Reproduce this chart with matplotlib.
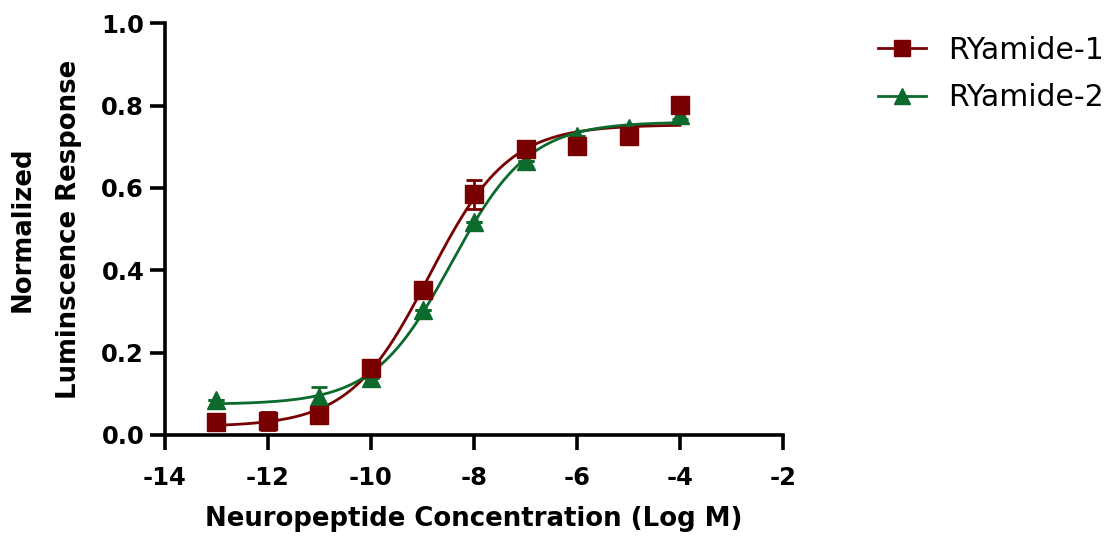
import numpy as np
from matplotlib import pyplot as plt

# log molar concentrations and mean responses
log_conc_1 = [-13, -12, -11, -10, -9, -8, -7, -6, -5, -4]
resp_1 = [0.032, 0.035, 0.048, 0.162, 0.352, 0.584, 0.694, 0.702, 0.727, 0.801]
err_1 = [0.0, 0.022, 0.0, 0.0, 0.012, 0.035, 0.0, 0.0, 0.0, 0.0]

log_conc_2 = [-13, -11, -10, -9, -8, -7, -6, -5, -4]
resp_2 = [0.086, 0.093, 0.138, 0.303, 0.518, 0.665, 0.726, 0.745, 0.777]
err_2 = [0.0, 0.024, 0.0, 0.0, 0.0, 0.0, 0.0, 0.0, 0.01]

labels = ["RYamide-1", "RYamide-2"]
colors = ["#780000", "#0b6a2c"]
markers = ["s", "^"]

x_ticks = [-14, -12, -10, -8, -6, -4, -2]
y_ticks = [0.0, 0.2, 0.4, 0.6, 0.8, 1.0]


def fit_4pl(x, y):
    """Four parameter logistic fit: grid over logEC50/hill, bottom/top by least squares."""
    x = np.asarray(x, float)
    y = np.asarray(y, float)
    ec = np.arange(-10.5, -7.0, 0.005)
    hill = np.arange(0.3, 1.5, 0.005)
    E, H = np.meshgrid(ec, hill, indexing="ij")
    s = 1.0 / (1.0 + 10 ** ((E[..., None] - x) * H[..., None]))
    a1, a2 = 1 - s, s
    s11 = (a1 * a1).sum(-1)
    s12 = (a1 * a2).sum(-1)
    s22 = (a2 * a2).sum(-1)
    r1 = (a1 * y).sum(-1)
    r2 = (a2 * y).sum(-1)
    det = s11 * s22 - s12 ** 2
    bottom = (s22 * r1 - s12 * r2) / det
    top = (s11 * r2 - s12 * r1) / det
    resid = ((bottom[..., None] * a1 + top[..., None] * a2 - y) ** 2).sum(-1)
    i, j = np.unravel_index(resid.argmin(), resid.shape)
    b, t, e, h = bottom[i, j], top[i, j], ec[i], hill[j]
    return lambda xx: b + (t - b) / (1 + 10 ** ((e - xx) * h))


plt.rcParams["font.family"] = ["DejaVu Sans"]

fig = plt.figure(figsize=(11.11, 5.39), dpi=100)
ax = fig.add_axes([0.1485, 0.193, 0.5563, 0.764])

series = [
    (log_conc_1, resp_1, err_1),
    (log_conc_2, resp_2, err_2),
]
z_line = [2, 3]
z_mark = [6, 4]

handles = []
for k, (x, y, e) in enumerate(series):
    curve = fit_4pl(x, y)
    xs = np.linspace(min(x), max(x), 300)
    ax.plot(xs, curve(xs), color=colors[k], lw=2.0, zorder=z_line[k])
    ax.errorbar(x, y, yerr=e, fmt="none", ecolor=colors[k], elinewidth=2.0,
                capsize=6, capthick=2.0, zorder=z_mark[k] - 1)
    ax.plot(x, y, ls="none", marker=markers[k], ms=12.5 if k == 0 else 13,
            color=colors[k], mec=colors[k], zorder=z_mark[k])
    h, = ax.plot([], [], color=colors[k], lw=2.0, marker=markers[k], ms=12)
    handles.append(h)

ax.set_xlim(-14, -2)
ax.set_ylim(0, 1.0)
ax.set_xticks(x_ticks)
ax.set_yticks(y_ticks)
ax.set_xticklabels([str(v) for v in x_ticks])
ax.set_yticklabels([f"{v:.1f}" for v in y_ticks])

for side in ["top", "right"]:
    ax.spines[side].set_visible(False)
for side in ["left", "bottom"]:
    ax.spines[side].set_linewidth(2.6)

ax.tick_params(axis="both", direction="out", length=11, width=2.6, labelsize=17.5)
ax.tick_params(axis="x", pad=11)
ax.tick_params(axis="y", pad=4)
for lab in ax.get_xticklabels() + ax.get_yticklabels():
    lab.set_fontweight("bold")

ax.set_xlabel("Neuropeptide Concentration (Log M)", fontsize=18.7, fontweight="bold", labelpad=12)
ax.set_ylabel("Normalized\nLuminscence Response", fontsize=18.7, fontweight="bold",
              labelpad=14, linespacing=2.0)

ax.legend(handles, labels, loc="upper left", bbox_to_anchor=(1.11, 1.035), frameon=False,
          fontsize=21.5, handlelength=1.6, labelspacing=0.62, handletextpad=0.75)

fig.savefig("out.png", dpi=100)
